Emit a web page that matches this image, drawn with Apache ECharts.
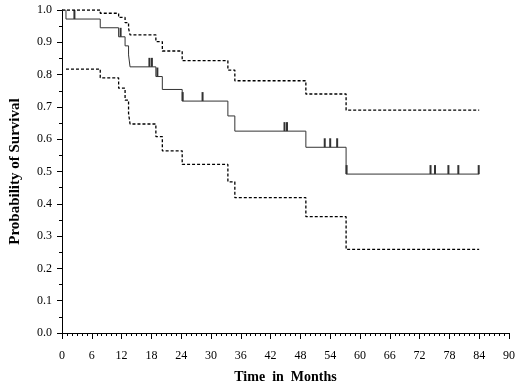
<!DOCTYPE html>
<html>
<head>
<meta charset="utf-8">
<script src="https://cdn.jsdelivr.net/npm/echarts@6/dist/echarts.min.js"></script>
<style>html,body{margin:0;padding:0;background:#fff}#c{width:520px;height:390px}</style>
</head>
<body>
<div id="c"></div>
<script>
// Kaplan-Meier estimate (step changes at event times)
var kmTimes  = [0, 0.8, 7.7, 11.4, 12.7, 13.4, 13.7, 18.9, 20.2, 24.2, 33.4, 34.8, 49.1, 57.2, 84];
var kmValues = [1.0, 0.972, 0.945, 0.917, 0.889, 0.861, 0.824, 0.794, 0.754, 0.718, 0.672, 0.625, 0.575, 0.492, 0.492];
// Upper confidence limit
var upTimes  = [0, 7.7, 11.4, 12.7, 13.4, 13.7, 18.9, 20.2, 24.2, 33.4, 34.8, 49.1, 57.2, 84];
var upValues = [1.0, 0.99, 0.977, 0.961, 0.943, 0.923, 0.902, 0.873, 0.843, 0.814, 0.781, 0.740, 0.690, 0.690];
// Lower confidence limit
var loTimes  = [0.8, 7.7, 11.4, 12.7, 13.4, 13.7, 18.9, 20.2, 24.2, 33.4, 34.8, 49.1, 57.2, 84];
var loValues = [0.817, 0.790, 0.758, 0.721, 0.680, 0.647, 0.608, 0.564, 0.522, 0.468, 0.419, 0.360, 0.259, 0.259];
// Censored observations
var censorTimes  = [2.5, 11.8, 17.6, 18.1, 19.2, 24.3, 28.3, 44.8, 45.3, 52.9, 54.0, 55.4, 57.3, 74.2, 75.1, 77.8, 79.8, 83.9];
var censorValues = [0.972, 0.917, 0.824, 0.824, 0.794, 0.718, 0.718, 0.625, 0.625, 0.575, 0.575, 0.575, 0.492, 0.492, 0.492, 0.492, 0.492, 0.492];
var xTicks = [0, 6, 12, 18, 24, 30, 36, 42, 48, 54, 60, 66, 72, 78, 84, 90];
var yTicks = [0.0, 0.1, 0.2, 0.3, 0.4, 0.5, 0.6, 0.7, 0.8, 0.9, 1.0];

function pairs(xs, ys) { return xs.map(function (x, i) { return [x, ys[i]]; }); }

var font = 'Liberation Serif';
var chart = echarts.init(document.getElementById('c'), null, {renderer: 'canvas'});
chart.setOption({
  animation: false,
  backgroundColor: '#fff',
  grid: {left: 60, right: 11, top: 10, bottom: 57},
  xAxis: {
    type: 'value', min: xTicks[0], max: xTicks[xTicks.length - 1], interval: 6,
    name: 'Time  in  Months', nameLocation: 'middle', nameGap: 37,
    nameTextStyle: {fontFamily: font, fontWeight: 'bold', fontSize: 14, color: '#000'},
    axisLine: {lineStyle: {color: '#000', width: 1}},
    axisTick: {show: true, inside: false, length: 6, lineStyle: {color: '#000'}},
    minorTick: {show: true, splitNumber: 6, length: 3, lineStyle: {color: '#000'}},
    axisLabel: {fontFamily: font, fontSize: 12, color: '#000', margin: 17},
    splitLine: {show: false}
  },
  yAxis: {
    type: 'value', min: yTicks[0], max: yTicks[yTicks.length - 1], interval: 0.1,
    name: 'Probability of Survival', nameLocation: 'middle', nameGap: 39,
    nameTextStyle: {fontFamily: font, fontWeight: 'bold', fontSize: 15, color: '#000'},
    axisLine: {show: true, lineStyle: {color: '#000', width: 1}},
    axisTick: {show: true, inside: false, length: 5, lineStyle: {color: '#000'}},
    minorTick: {show: true, splitNumber: 2, length: 3, lineStyle: {color: '#000'}},
    axisLabel: {fontFamily: font, fontSize: 12, color: '#000', margin: 10,
      formatter: function (v) { return v.toFixed(1); }},
    splitLine: {show: false}
  },
  series: [
    {type: 'line', step: 'end', data: pairs(upTimes, upValues), symbol: 'none',
      lineStyle: {color: '#000', width: 1.3, type: [3, 2]}},
    {type: 'line', step: 'end', data: pairs(loTimes, loValues), symbol: 'none',
      lineStyle: {color: '#000', width: 1.3, type: [3, 2]}},
    {type: 'line', step: 'end', data: pairs(kmTimes, kmValues), symbol: 'none',
      lineStyle: {color: '#333', width: 1}},
    {type: 'scatter', data: pairs(censorTimes, censorValues), symbol: 'rect',
      symbolSize: [2, 9], symbolOffset: [0, -4.5], itemStyle: {color: '#000'}}
  ]
});
</script>
</body>
</html>
